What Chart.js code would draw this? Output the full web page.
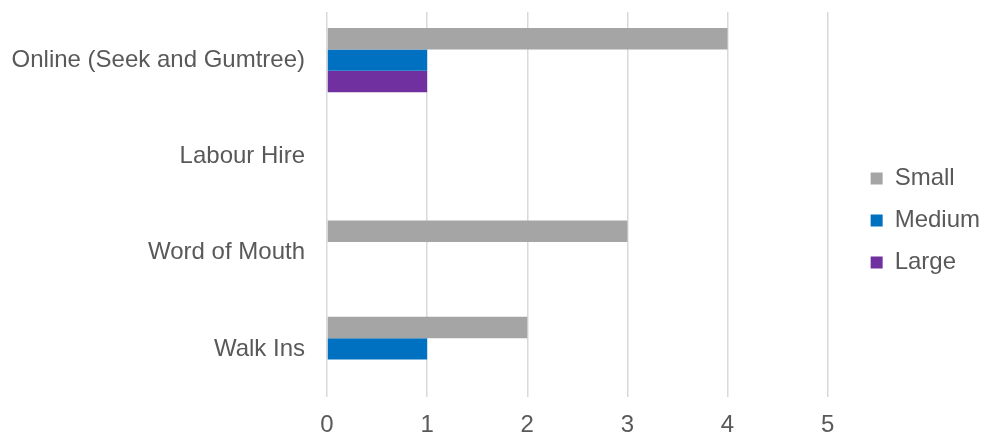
<!DOCTYPE html>
<html>
<head>
<meta charset="utf-8">
<script src="https://cdn.jsdelivr.net/npm/chart.js@4.4.1/dist/chart.umd.min.js"></script>
<style>
  html, body { margin: 0; padding: 0; background: #ffffff; overflow: hidden; }
  #wrap { width: 983px; height: 435px; }
</style>
</head>
<body>
<div id="wrap"><canvas id="chart" width="983" height="435"></canvas></div>
<script>
// Recruitment channels by business size
const categories = ['Online (Seek and Gumtree)', 'Labour Hire', 'Word of Mouth', 'Walk Ins'];
const seriesNames = ['Small', 'Medium', 'Large'];
const smallValues = [4, 0, 3, 2];
const mediumValues = [1, 0, 0, 1];
const largeValues = [1, 0, 0, 0];
const xTicks = [0, 1, 2, 3, 4, 5];

const colors = ['#a5a5a5', '#0070c0', '#7030a0'];
const textColor = '#595959';
const fontFamily = '"Liberation Sans", Arial, sans-serif';

const datasets = [smallValues, mediumValues, largeValues].map((vals, i) => ({
  label: seriesNames[i],
  data: vals,
  backgroundColor: colors[i],
  borderWidth: 0,
  categoryPercentage: 0.67,
  barPercentage: 1.0
}));

// Lift the legend block slightly above its centred position
const legendNudge = {
  id: 'legendNudge',
  afterLayout(chart) {
    if (chart.legend) {
      chart.legend.top -= 3;
      chart.legend.bottom -= 3;
    }
  }
};

new Chart(document.getElementById('chart'), {
  type: 'bar',
  data: { labels: categories, datasets },
  plugins: [legendNudge],
  options: {
    indexAxis: 'y',
    responsive: false,
    animation: false,
    layout: { padding: { top: 12, right: -7, bottom: 0, left: 0 } },
    plugins: {
      tooltip: { enabled: false },
      legend: {
        position: 'right',
        labels: {
          boxWidth: 12,
          boxHeight: 12,
          padding: 18,
          color: textColor,
          font: { family: fontFamily, size: 24 }
        }
      }
    },
    scales: {
      x: {
        min: xTicks[0],
        max: xTicks[xTicks.length - 1],
        afterBuildTicks: s => { s.ticks = xTicks.map(v => ({ value: v })); },
        afterFit: s => { s.height = 38; },
        grid: { color: '#d9d9d9', lineWidth: 1.5, drawTicks: false },
        border: { display: false },
        ticks: { color: textColor, padding: 14, font: { family: fontFamily, size: 24 } }
      },
      y: {
        afterFit: s => { s.width = 327; s.paddingTop = 0; s.paddingBottom = 0; },
        grid: { display: false, drawTicks: false },
        border: { display: false },
        ticks: { color: textColor, padding: 22, font: { family: fontFamily, size: 24 } }
      },
      yGap: {
        type: 'linear',
        position: 'right',
        display: true,
        afterFit: s => { s.width = 25; s.paddingTop = 0; s.paddingBottom = 0; },
        grid: { display: false, drawTicks: false },
        border: { display: false },
        ticks: { display: false }
      }
    }
  }
});
</script>
</body>
</html>
